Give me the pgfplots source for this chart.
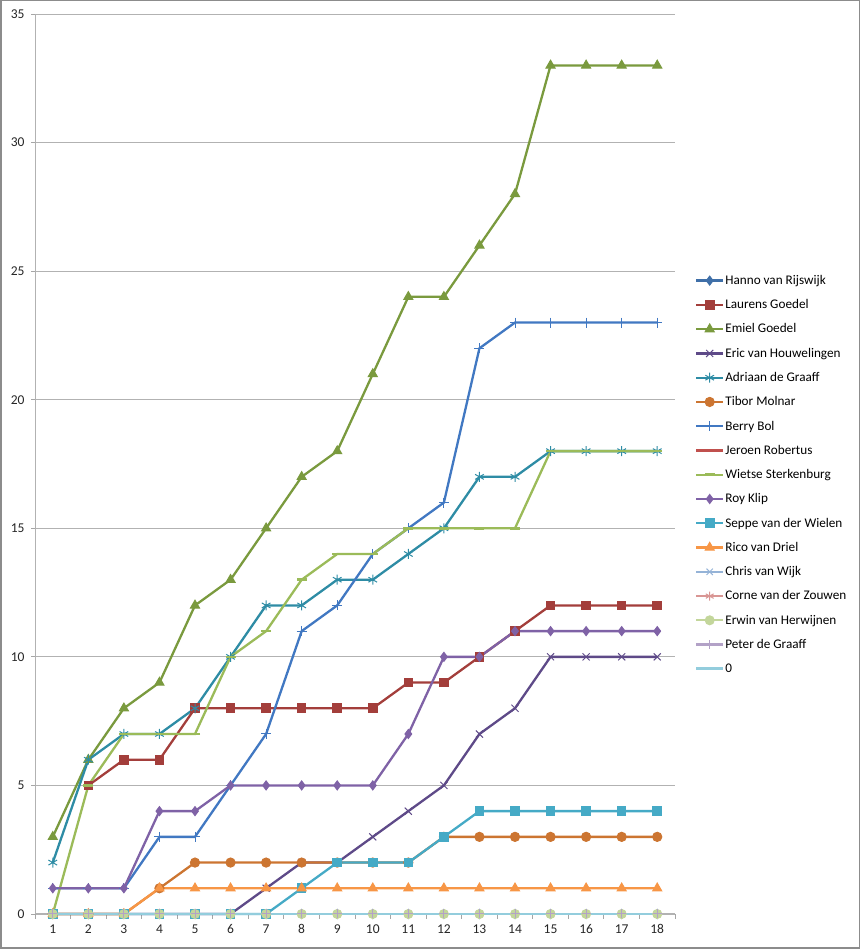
\documentclass[border=0pt]{standalone}
\usepackage{pgfplots}
\pgfplotsset{compat=1.18}
\usepackage{fontspec}
\setmainfont{Carlito}
\usetikzlibrary{plotmarks}
\definecolor{cHanno}{HTML}{3F6FA8}
\definecolor{cLaurens}{HTML}{A33E3B}
\definecolor{cEmiel}{HTML}{7A9A3E}
\definecolor{cEric}{HTML}{5E4A88}
\definecolor{cAdriaan}{HTML}{2E8CA5}
\definecolor{cTibor}{HTML}{CC7531}
\definecolor{cBerry}{HTML}{4178C2}
\definecolor{cJeroen}{HTML}{C0504D}
\definecolor{cWietse}{HTML}{9BBB59}
\definecolor{cRoy}{HTML}{7F62A6}
\definecolor{cSeppe}{HTML}{45AAC6}
\definecolor{cRico}{HTML}{F79646}
\definecolor{cChris}{HTML}{95B3D7}
\definecolor{cCorne}{HTML}{D99694}
\definecolor{cErwin}{HTML}{C3D69B}
\definecolor{cPeter}{HTML}{B3A2C7}
\definecolor{cZero}{HTML}{93CDDD}
\begin{document}
\begin{tikzpicture}[x=1pt,y=1pt]
\useasboundingbox (0,0) rectangle (860,949);
\draw[black!45, line width=1.5pt] (0.75,0.75) rectangle (859.25,948.25);
\begin{axis}[
  at={(35pt,35pt)}, anchor=origin,
  scale only axis, width=640pt, height=900pt,
  xmin=0.5, xmax=18.5, ymin=0, ymax=35,
  xtick={1,...,18}, ytick={0,5,...,35},
  minor xtick={0.5,1.5,...,18.5},
  major x tick style={draw=none},
  minor x tick style={black!35, line width=0.8pt},
  y tick style={black!35, line width=0.8pt},
  tick align=outside, major tick length=4pt, minor tick length=5pt,
  axis x line*=bottom, axis y line*=left,
  axis line style={black!30, line width=1pt, -},
  ymajorgrids, grid style={black!30, line width=0.8pt},
  tick label style={font=\fontsize{13.5}{15}\selectfont, text=black!85},
  /pgf/number format/assume math mode=true,
  xticklabel style={yshift=-3pt},
  yticklabel style={xshift=-3pt},
  every axis plot/.append style={line width=2.3pt, mark options={solid, line width=1pt}},
  legend style={at={(rel axis cs:1.031,0.711)}, anchor=north west, draw=none, fill=none,
    font=\fontsize{13.2}{15}\selectfont, row sep=11.6pt, inner sep=0pt,
    nodes={inner sep=1pt}},
  legend cell align=left,
  legend image code/.code={\draw[mark repeat=2,mark phase=2] plot coordinates {(0pt,0pt) (13.5pt,0pt) (27pt,0pt)};},
  clip=false,
]
% Hanno van Rijswijk
\addplot[color=cHanno, mark=diamond*, mark size=4.5pt] coordinates {(1,0)(2,0)(3,0)(4,0)(5,0)(6,0)(7,0)(8,0)(9,0)(10,0)(11,0)(12,0)(13,0)(14,0)(15,0)(16,0)(17,0)(18,0)};
\addlegendentry{Hanno van Rijswijk}
% Laurens Goedel
\addplot[color=cLaurens, mark=square*, mark size=4.3pt] coordinates {(2,5)(3,6)(4,6)(5,8)(6,8)(7,8)(8,8)(9,8)(10,8)(11,9)(12,9)(13,10)(14,11)(15,12)(16,12)(17,12)(18,12)};
\addlegendentry{Laurens Goedel}
% Emiel Goedel
\addplot[color=cEmiel, mark=triangle*, mark size=5.2pt] coordinates {(1,3)(2,6)(3,8)(4,9)(5,12)(6,13)(7,15)(8,17)(9,18)(10,21)(11,24)(12,24)(13,26)(14,28)(15,33)(16,33)(17,33)(18,33)};
\addlegendentry{Emiel Goedel}
% Eric van Houwelingen
\addplot[color=cEric, mark=x, mark size=5pt] coordinates {(1,0)(2,0)(3,0)(4,0)(5,0)(6,0)(7,1)(8,2)(9,2)(10,3)(11,4)(12,5)(13,7)(14,8)(15,10)(16,10)(17,10)(18,10)};
\addlegendentry{Eric van Houwelingen}
% Adriaan de Graaff
\addplot[color=cAdriaan, mark=asterisk, mark size=5pt] coordinates {(1,2)(2,6)(3,7)(4,7)(5,8)(6,10)(7,12)(8,12)(9,13)(10,13)(11,14)(12,15)(13,17)(14,17)(15,18)(16,18)(17,18)(18,18)};
\addlegendentry{Adriaan de Graaff}
% Tibor Molnar
\addplot[color=cTibor, mark=*, mark size=4.6pt] coordinates {(1,0)(2,0)(3,0)(4,1)(5,2)(6,2)(7,2)(8,2)(9,2)(10,2)(11,2)(12,3)(13,3)(14,3)(15,3)(16,3)(17,3)(18,3)};
\addlegendentry{Tibor Molnar}
% Berry Bol
\addplot[color=cBerry, mark=+, mark size=5pt] coordinates {(1,1)(2,1)(3,1)(4,3)(5,3)(6,5)(7,7)(8,11)(9,12)(10,14)(11,15)(12,16)(13,22)(14,23)(15,23)(16,23)(17,23)(18,23)};
\addlegendentry{Berry Bol}
% Jeroen Robertus
\addplot[color=cJeroen, mark=none] coordinates {(1,0)(2,0)(3,0)(4,0)(5,0)(6,0)(7,0)(8,0)(9,0)(10,0)(11,0)(12,0)(13,0)(14,0)(15,0)(16,0)(17,0)(18,0)};
\addlegendentry{Jeroen Robertus}
% Wietse Sterkenburg
\addplot[color=cWietse, mark=-, mark size=5pt, mark options={line width=2.5pt}] coordinates {(1,0)(2,5)(3,7)(4,7)(5,7)(6,10)(7,11)(8,13)(9,14)(10,14)(11,15)(12,15)(13,15)(14,15)(15,18)(16,18)(17,18)(18,18)};
\addlegendentry{Wietse Sterkenburg}
% Roy Klip
\addplot[color=cRoy, mark=diamond*, mark size=4.5pt] coordinates {(1,1)(2,1)(3,1)(4,4)(5,4)(6,5)(7,5)(8,5)(9,5)(10,5)(11,7)(12,10)(13,10)(14,11)(15,11)(16,11)(17,11)(18,11)};
\addlegendentry{Roy Klip}
% Seppe van der Wielen
\addplot[color=cSeppe, mark=square*, mark size=4.3pt] coordinates {(1,0)(2,0)(3,0)(4,0)(5,0)(6,0)(7,0)(8,1)(9,2)(10,2)(11,2)(12,3)(13,4)(14,4)(15,4)(16,4)(17,4)(18,4)};
\addlegendentry{Seppe van der Wielen}
% Rico van Driel
\addplot[color=cRico, mark=triangle*, mark size=5.2pt] coordinates {(1,0)(2,0)(3,0)(4,1)(5,1)(6,1)(7,1)(8,1)(9,1)(10,1)(11,1)(12,1)(13,1)(14,1)(15,1)(16,1)(17,1)(18,1)};
\addlegendentry{Rico van Driel}
% Chris van Wijk
\addplot[color=cChris, mark=x, mark size=4.5pt] coordinates {(1,0)(2,0)(3,0)(4,0)(5,0)(6,0)(7,0)(8,0)(9,0)(10,0)(11,0)(12,0)(13,0)(14,0)(15,0)(16,0)(17,0)(18,0)};
\addlegendentry{Chris van Wijk}
% Corne van der Zouwen
\addplot[color=cCorne, mark=asterisk, mark size=4.5pt] coordinates {(1,0)(2,0)(3,0)(4,0)(5,0)(6,0)(7,0)(8,0)(9,0)(10,0)(11,0)(12,0)(13,0)(14,0)(15,0)(16,0)(17,0)(18,0)};
\addlegendentry{Corne van der Zouwen}
% Erwin van Herwijnen
\addplot[color=cErwin, mark=*, mark size=4.5pt] coordinates {(1,0)(2,0)(3,0)(4,0)(5,0)(6,0)(7,0)(8,0)(9,0)(10,0)(11,0)(12,0)(13,0)(14,0)(15,0)(16,0)(17,0)(18,0)};
\addlegendentry{Erwin van Herwijnen}
% Peter de Graaff
\addplot[color=cPeter, mark=+, mark size=4.5pt] coordinates {(1,0)(2,0)(3,0)(4,0)(5,0)(6,0)(7,0)(8,0)(9,0)(10,0)(11,0)(12,0)(13,0)(14,0)(15,0)(16,0)(17,0)(18,0)};
\addlegendentry{Peter de Graaff}
% 0
\addplot[color=cZero, mark=none] coordinates {(1,0)(2,0)(3,0)(4,0)(5,0)(6,0)(7,0)(8,0)(9,0)(10,0)(11,0)(12,0)(13,0)(14,0)(15,0)(16,0)(17,0)(18,0)};
\addlegendentry{0}
\end{axis}
\end{tikzpicture}
\end{document}
